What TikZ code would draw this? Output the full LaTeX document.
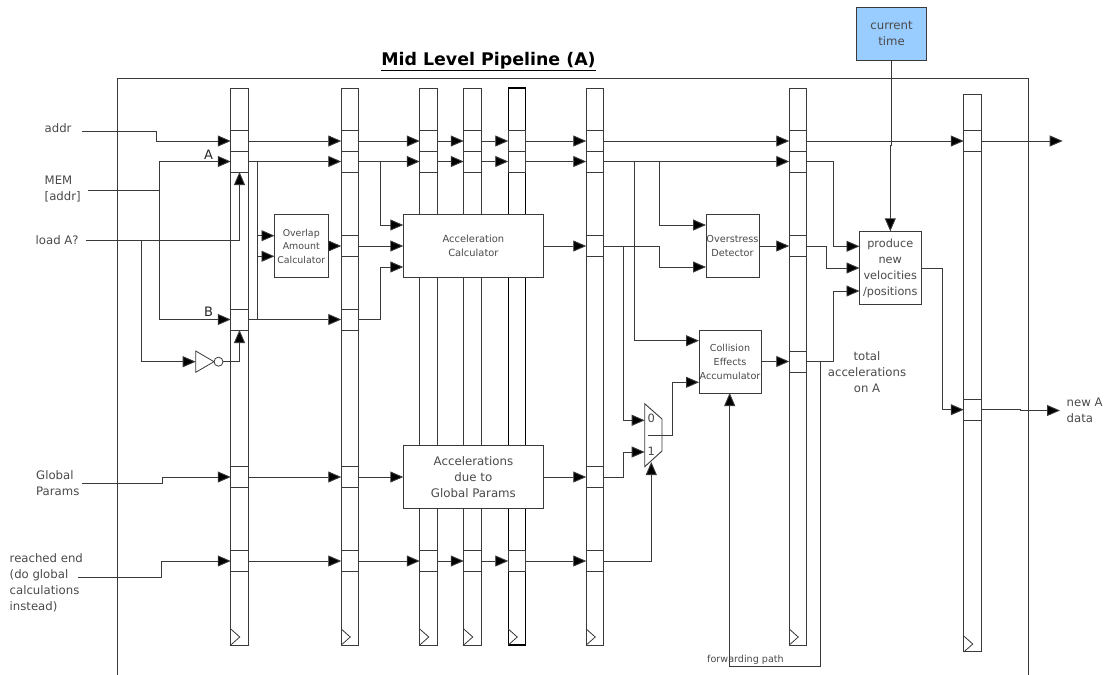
\documentclass[tikz,border=0pt]{standalone}
\usepackage{fontspec}
\setmainfont{DejaVu Sans}
\usetikzlibrary{arrows.meta}
\definecolor{ln}{HTML}{3A3A3A}
\definecolor{tx}{HTML}{4A4A4A}
\definecolor{sky}{HTML}{99CCFF}
\tikzset{
  wire/.style={draw=ln,line width=0.9pt},
  arr/.style={wire,-{Triangle[length=13pt,width=11pt,fill=black]}},
  regbar/.style={draw=ln,line width=0.9pt,fill=white,minimum width=17.5pt,inner sep=0pt,outer sep=0pt},
  slotbox/.style={regbar,minimum height=21pt},
  block/.style={draw=ln,line width=0.9pt,fill=white,inner sep=0pt,outer sep=0pt,align=center,text=tx},
  lab/.style={text=tx,align=left,inner sep=0pt,font=\fontsize{11.7}{16}\selectfont},
  captxt/.style={text=tx,align=center,inner sep=0pt,font=\fontsize{11.7}{16}\selectfont}
}
\begin{document}
\begin{tikzpicture}[x=1pt,y=-1pt]
\useasboundingbox (0,0) rectangle (1109,675);
\fill[white] (0,0) rectangle (1109,675);
% frame
\draw[draw=ln,line width=0.9pt] (117.3,675) -- (117.3,78.3) -- (1028.3,78.3) -- (1028.3,675);
\node[inner sep=0pt,text=black] (title) at (488.5,61.5) {\fontsize{17.4}{18}\selectfont\bfseries\underline{Mid Level Pipeline (A)}};
% registers
\foreach \n/\x in {1/239.5,2/350,3/428.5,4/472.5,6/595,7/798}{
  \node[regbar,minimum height=557pt] (r\n) at (\x,366.5) {};
  \draw[draw=ln,line width=0.8pt] (\x-8.75,629) -- (\x+0.25,637) -- (\x-8.75,645);
}
\node[regbar,line width=1.4pt,draw=black,minimum height=557pt] (r5) at (517,366.5) {};
\draw[draw=ln,line width=0.8pt] (508.25,629) -- (517.25,637) -- (508.25,645);
\node[regbar,minimum height=557pt] (r8) at (972.5,373) {};
\draw[draw=ln,line width=0.8pt] (963.75,636) -- (972.75,644) -- (963.75,652);
% slots
\foreach \n/\x in {1/239.5,2/350,3/428.5,4/472.5,5/517,6/595,7/798}{
  \node[slotbox] (a\n) at (\x,141) {};
  \node[slotbox] (b\n) at (\x,161.5) {};
}
\foreach \n/\x in {1/239.5,2/350,3/428.5,4/472.5,5/517,6/595}{
  \node[slotbox] (e\n) at (\x,561) {};
}
\foreach \n/\x in {2/350,6/595,7/798}{
  \node[slotbox] (m\n) at (\x,246) {};
}
\foreach \n/\x in {1/239.5,2/350,6/595}{
  \node[slotbox] (g\n) at (\x,477) {};
}
\foreach \n/\x in {1/239.5,2/350}{
  \node[slotbox] (s\n) at (\x,319.5) {};
}
\node[slotbox] (c7) at (798,361.5) {};
\node[slotbox] (a8) at (972.5,141) {};
\node[slotbox] (n8) at (972.5,409.7) {};
% blocks
\node[block,minimum width=53.5pt,minimum height=63pt,font=\fontsize{9.4}{13.5}\selectfont] (ov) at (301.25,246) {Overlap\\Amount\\Calculator};
\node[block,minimum width=140.2pt,minimum height=63pt,font=\fontsize{9.9}{14}\selectfont] (ac) at (473.4,246) {Acceleration\\Calculator};
\node[block,minimum width=140.2pt,minimum height=63pt,font=\fontsize{11.8}{16}\selectfont] (gp) at (473.4,477) {Accelerations\\due to\\Global Params};
\node[block,minimum width=53pt,minimum height=63pt,font=\fontsize{9.7}{14}\selectfont] (od) at (732.5,246) {Overstress\\Detector};
\node[block,minimum width=62pt,minimum height=63pt,font=\fontsize{9.6}{14}\selectfont] (ce) at (730,361.5) {Collision\\Effects\\Accumulator};
\node[block,minimum width=61.5pt,minimum height=73.4pt,font=\fontsize{11.3}{16}\selectfont] (pv) at (890.25,268) {produce\\new\\velocities\\/positions};
\node[block,fill=sky,minimum width=70.4pt,minimum height=52.7pt,font=\fontsize{11.7}{16}\selectfont] (ct) at (891.5,33.7) {current\\time};
% mux
\draw[draw=ln,line width=0.9pt,fill=white] (644.7,403.7) -- (662,419) -- (662,451) -- (644.7,466.7) -- cycle;
\node[text=tx,inner sep=0pt,font=\fontsize{11.5}{12}\selectfont] (m0) at (651.3,418.5) {0};
\node[text=tx,inner sep=0pt,font=\fontsize{11.5}{12}\selectfont] (m1) at (651.3,451) {1};
\coordinate (mo) at (648,435);
\coordinate (mi0) at (644.7,420.3);
\coordinate (mi1) at (644.7,452);
\coordinate (mis) at (651.3,462);
% labels
\node[lab,anchor=west] (taddr) at (44.5,128) {addr};
\node[lab,anchor=west] (tmem) at (44.5,189.5) {MEM\\{[addr]}};
\node[lab,anchor=west] (tload) at (35.5,240) {load A?};
\node[lab,anchor=west] (tgp) at (36,483) {Global\\Params};
\node[lab,anchor=west] (tre) at (9.5,583) {reached end\\(do global\\calculations\\instead)};
\node[captxt] (ttot) at (867,372) {total\\accelerations\\on A};
\node[lab,anchor=west] (tnew) at (1066.5,410) {new A\\data};
\node[inner sep=0pt,text=black!85,font=\fontsize{13}{14}\selectfont] (tA) at (208.5,154.5) {A};
\node[inner sep=0pt,text=black!85,font=\fontsize{13}{14}\selectfont] (tB) at (208.5,311.5) {B};
\node[text=tx,inner sep=0pt,anchor=west,font=\fontsize{9.6}{10}\selectfont] (tfp) at (707,660) {forwarding path};
% input stubs
\coordinate (iaddr) at (82,131.3);
\coordinate (imem) at (87.7,190);
\coordinate (iload) at (85.5,240);
\coordinate (igp) at (82,483.3);
\coordinate (ire) at (78,577.3);
% left inputs
\draw[arr] (iaddr) -- (156.7,131.3) -- (156.7,141) -- (a1.west);
\coordinate (jm) at (159.5,190);
\draw[wire] (imem) -- (jm);
\draw[arr] (jm) |- (b1.west);
\draw[arr] (jm) |- (s1.west);
\coordinate (jl) at (141.5,240);
\draw[arr] (iload) -- (239.5,240) -- (b1.south);
\draw[arr] (igp) -- (162.5,483.3) -- (162.5,477) -- (g1.west);
\draw[arr] (ire) -- (161,577.3) -- (161,561) -- (e1.west);
% inverter
\coordinate (invl) at (195.7,361.7);
\draw[arr] (jl) |- (invl);
\draw[draw=ln,line width=0.8pt] (195.7,351) -- (214,361.7) -- (195.7,372.3) -- cycle;
\node[circle,draw=ln,line width=0.8pt,inner sep=0pt,outer sep=0pt,minimum size=9pt] (bub) at (218.5,361.7) {};
\draw[arr] (bub.east) -| (s1.south);
% register chain
\foreach \p/\q in {1/2,2/3,3/4,4/5,5/6,6/7}{
  \draw[arr] (a\p.east) -- (a\q.west);
  \draw[arr] (b\p.east) -- (b\q.west);
}
\foreach \p/\q in {1/2,2/3,3/4,4/5,5/6}{
  \draw[arr] (e\p.east) -- (e\q.west);
}
\draw[arr] (a7.east) -- (a8.west);
\draw[arr] (g1.east) -- (g2.west);
\draw[arr] (s1.east) -- (s2.west);
% overlap
\coordinate (j1) at (257.5,161.5);
\coordinate (j2) at (257.5,319.5);
\draw[wire] (j1) -- (j2);
\draw[arr] (j1) |- (274.5,235.7);
\draw[arr] (j2) |- (274.5,256.3);
\draw[arr] (ov.east) -- (m2.west);
% acceleration calculator
\coordinate (j3) at (380.5,161.5);
\draw[arr] (j3) |- (403.3,225);
\draw[arr] (m2.east) -- (ac.west);
\draw[arr] (s2.east) -- (380.5,319.5) -- (380.5,267) -- (403.3,267);
\draw[arr] (ac.east) -- (m6.west);
\draw[arr] (g2.east) -- (gp.west);
\draw[arr] (gp.east) -- (g6.west);
% overstress
\coordinate (j4) at (659.7,161.5);
\draw[arr] (j4) |- (706,225);
\draw[arr] (m6.east) -- (659.7,246) -- (659.7,267) -- (706,267);
\draw[arr] (od.east) -- (m7.west);
% collision
\coordinate (j5) at (634,161.5);
\draw[arr] (j5) |- (699,340.7);
\coordinate (j6) at (623,246);
\draw[arr] (j6) |- (mi0);
\draw[arr] (g6.east) -- (623,477) -- (623,452) -- (mi1);
\draw[arr] (e6.east) -| (mis);
\draw[arr] (mo) -- (672.7,435) -- (672.7,382.3) -- (699,382.3);
\draw[arr] (ce.east) -- (c7.west);
% forwarding
\coordinate (jf) at (820.3,361.5);
\coordinate (fb) at (820.3,666);
\coordinate (ces) at (729.7,393);
\draw[arr] (jf) -- (fb) -- (729.7,666) -- (ces);
% produce
\draw[arr] (b7.east) -- (833.3,161.5) -- (833.3,246.3) -- (859.5,246.3);
\draw[arr] (m7.east) -- (826,246) -- (826,268) -- (pv.west);
\draw[arr] (c7.east) -- (833.3,361.5) -- (833.3,291) -- (859.5,291);
\draw[arr] (ct.south) -- (891.5,145.3) -- (890.3,145.3) -- (890.3,231.3);
\draw[arr] (pv.east) -- (942.7,268) -- (942.7,409.7) -- (n8.west);
% outputs
\coordinate (oa) at (1062.7,141);
\coordinate (on) at (1060,410.5);
\draw[arr] (a8.east) -- (oa);
\draw[arr] (n8.east) -- (1020,409.7) -- (1020,410.5) -- (on);
\end{tikzpicture}
\end{document}
